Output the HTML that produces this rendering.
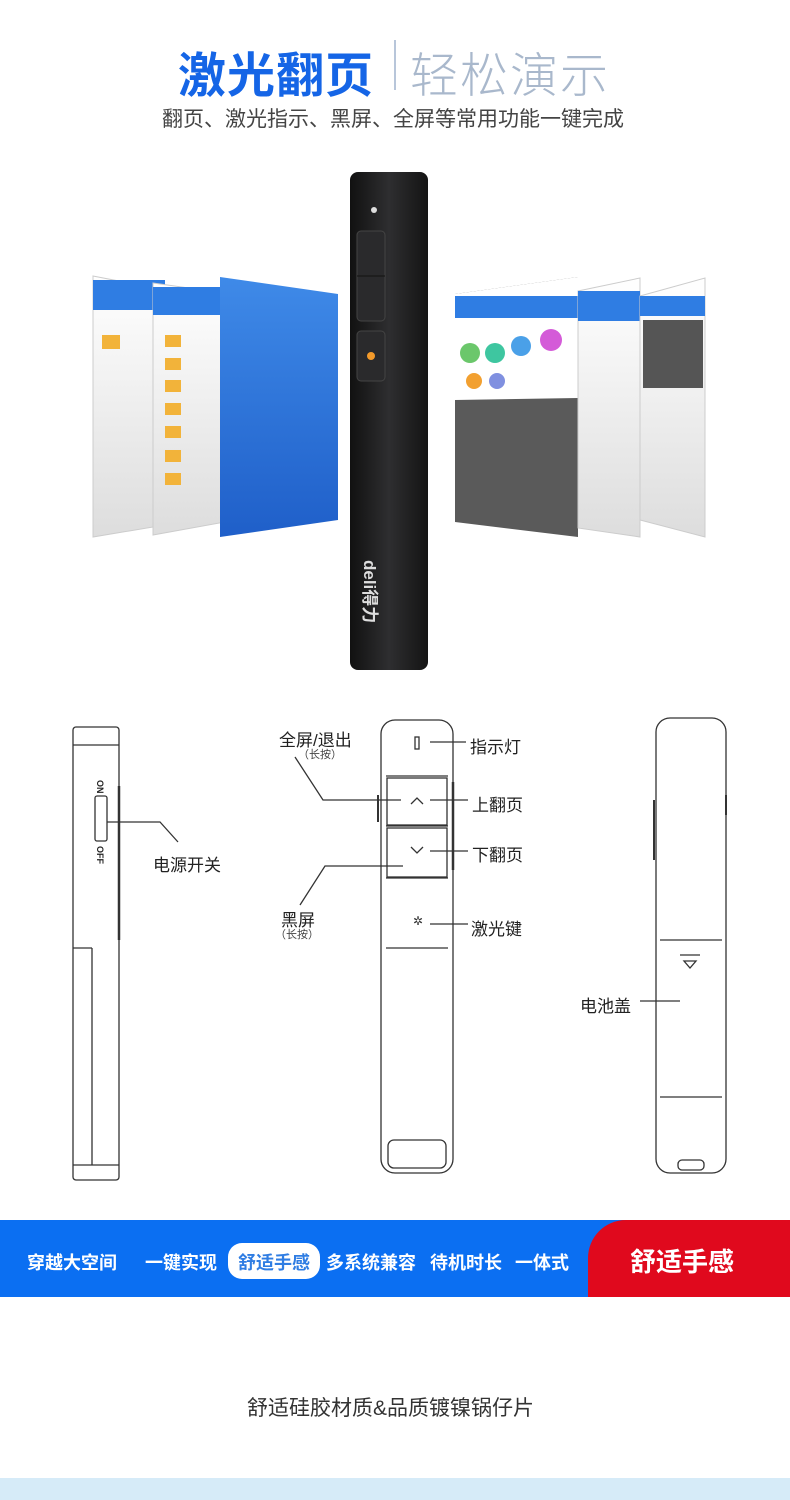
<!DOCTYPE html>
<html><head><meta charset="utf-8"><style>
html,body{margin:0;padding:0;background:#fff;}
body{width:790px;height:1500px;position:relative;overflow:hidden;font-family:"Liberation Sans","Noto Sans CJK SC",sans-serif;}
.a{position:absolute;white-space:nowrap;}
</style></head><body>
<div class="a" style="left:178px;top:36px;font-size:48px;font-weight:bold;color:#1565e6;letter-spacing:1px;">激光翻页</div>
<div class="a" style="left:394px;top:40px;width:2px;height:50px;background:#b8c6da;"></div>
<div class="a" style="left:410px;top:36px;font-size:48px;font-weight:200;color:#a9b8cc;letter-spacing:2px;">轻松演示</div>
<div class="a" style="left:162px;top:103px;font-size:21px;color:#444;">翻页、激光指示、黑屏、全屏等常用功能一键完成</div>

<svg class="a" style="left:0;top:0" width="790" height="1500">
<defs>
<linearGradient id="bl" x1="0" y1="0" x2="0" y2="1"><stop offset="0" stop-color="#3f8ae8"/><stop offset="1" stop-color="#1f5fc9"/></linearGradient>
<linearGradient id="wh" x1="0" y1="0" x2="0" y2="1"><stop offset="0" stop-color="#fff"/><stop offset="1" stop-color="#ddd"/></linearGradient>
<linearGradient id="pen" x1="0" y1="0" x2="1" y2="0"><stop offset="0" stop-color="#111"/><stop offset=".5" stop-color="#2e2e30"/><stop offset="1" stop-color="#141414"/></linearGradient>
</defs>
<polygon points="93,276 165,290 165,525 93,537" fill="url(#wh)" stroke="#ccc"/>
<rect x="93" y="280" width="72" height="30" fill="#2f7de3"/>
<polygon points="153,283 225,293 225,522 153,535" fill="url(#wh)" stroke="#ccc"/>
<rect x="153" y="287" width="72" height="28" fill="#2f7de3"/>
<g fill="#f2b33a"><rect x="102" y="335" width="18" height="14"/><rect x="165" y="335" width="16" height="12"/><rect x="165" y="358" width="16" height="12"/><rect x="165" y="380" width="16" height="12"/><rect x="165" y="403" width="16" height="12"/><rect x="165" y="426" width="16" height="12"/><rect x="165" y="450" width="16" height="12"/><rect x="165" y="473" width="16" height="12"/></g>
<polygon points="220,277 338,294 338,520 220,537" fill="url(#bl)"/>
<polygon points="455,294 578,277 578,537 455,522" fill="#5a5a5a"/>
<polygon points="455,294 578,277 578,398 455,400" fill="#fff"/>
<rect x="455" y="296" width="123" height="22" fill="#2f7de3"/>
<circle cx="470" cy="353" r="10" fill="#6bc76b"/><circle cx="495" cy="353" r="10" fill="#3ec6a0"/><circle cx="521" cy="346" r="10" fill="#4aa0e8"/><circle cx="551" cy="340" r="11" fill="#d45bd8"/><circle cx="474" cy="381" r="8" fill="#f2a030"/><circle cx="497" cy="381" r="8" fill="#8090e0"/>
<polygon points="578,291 640,278 640,537 578,528" fill="url(#wh)" stroke="#ccc"/>
<rect x="578" y="291" width="62" height="30" fill="#2f7de3"/>
<polygon points="640,296 705,278 705,537 640,520" fill="url(#wh)" stroke="#ccc"/>
<rect x="640" y="296" width="65" height="20" fill="#2f7de3"/>
<rect x="643" y="320" width="60" height="68" fill="#555"/>
<rect x="350" y="172" width="78" height="498" rx="8" fill="url(#pen)"/>
<circle cx="374" cy="210" r="3" fill="#ddd"/>
<rect x="357" y="231" width="28" height="90" rx="4" fill="#2a2a2c" stroke="#444"/>
<line x1="357" y1="276" x2="385" y2="276" stroke="#111"/>
<rect x="357" y="331" width="28" height="50" rx="4" fill="#2a2a2c" stroke="#444"/>
<circle cx="371" cy="356" r="4" fill="#f39a2a"/>
<text x="0" y="0" transform="translate(364,560) rotate(90)" font-size="17" font-weight="bold" fill="#ddd" font-family="Liberation Sans,Noto Sans CJK SC,sans-serif">deli得力</text>

<g fill="none" stroke="#333" stroke-width="1.3">
<rect x="73" y="727" width="46" height="453" rx="3"/>
<line x1="73" y1="745" x2="119" y2="745"/>
<line x1="73" y1="948" x2="92" y2="948"/><line x1="92" y1="948" x2="92" y2="1165"/>
<line x1="73" y1="1165" x2="119" y2="1165"/>
<rect x="95" y="796" width="12" height="45" rx="2"/>
<line x1="119" y1="786" x2="119" y2="940" stroke-width="2.5"/>
<polyline points="107,822 160,822 178,842"/>
<rect x="381" y="720" width="72" height="453" rx="14"/>
<line x1="386" y1="776" x2="448" y2="776"/><line x1="386" y1="826" x2="448" y2="826"/><line x1="386" y1="878" x2="448" y2="878"/><line x1="386" y1="948" x2="448" y2="948"/>
<rect x="387" y="778" width="60" height="47"/><rect x="387" y="828" width="60" height="49"/>
<rect x="388" y="1140" width="58" height="28" rx="6"/>
<line x1="453" y1="782" x2="453" y2="870" stroke-width="2.5"/>
<line x1="378" y1="795" x2="378" y2="822" stroke-width="2"/>
<polyline points="411,804 417,798 423,804"/><polyline points="411,847 417,853 423,847"/>
<rect x="415" y="737" width="4" height="12"/>
<polyline points="295,757 323,800 401,800"/>
<polyline points="300,905 325,866 403,866"/>
<line x1="430" y1="742" x2="466" y2="742"/><line x1="430" y1="800" x2="468" y2="800"/><line x1="430" y1="851" x2="468" y2="851"/><line x1="430" y1="924" x2="468" y2="924"/>
<rect x="656" y="718" width="70" height="455" rx="14"/>
<line x1="660" y1="940" x2="722" y2="940"/><line x1="660" y1="1097" x2="722" y2="1097"/>
<line x1="654" y1="800" x2="654" y2="860" stroke-width="2"/>
<line x1="726" y1="795" x2="726" y2="815" stroke-width="2"/>
<line x1="680" y1="955" x2="700" y2="955"/><polygon points="684,961 696,961 690,968"/>
<rect x="678" y="1160" width="26" height="10" rx="4"/>
<line x1="640" y1="1001" x2="680" y2="1001"/>
</g>
<text x="418" y="925" font-size="12" fill="#333" text-anchor="middle">✲</text>
</svg>
<div class="a" style="left:279px;top:726px;font-size:17px;color:#222;">全屏/退出</div>
<div class="a" style="left:298px;top:746px;font-size:11px;color:#444;">（长按）</div>
<div class="a" style="left:470px;top:733px;font-size:17px;color:#222;">指示灯</div>
<div class="a" style="left:472px;top:791px;font-size:17px;color:#222;">上翻页</div>
<div class="a" style="left:472px;top:841px;font-size:17px;color:#222;">下翻页</div>
<div class="a" style="left:471px;top:915px;font-size:17px;color:#222;">激光键</div>
<div class="a" style="left:281px;top:906px;font-size:17px;color:#222;">黑屏</div>
<div class="a" style="left:275px;top:926px;font-size:11px;color:#444;">（长按）</div>
<div class="a" style="left:153px;top:851px;font-size:17px;color:#222;">电源开关</div>
<div class="a" style="left:580px;top:992px;font-size:17px;color:#222;">电池盖</div>
<svg class="a" style="left:93px;top:776px" width="18" height="90"><text x="0" y="0" transform="translate(4,4) rotate(90)" font-size="9" font-weight="bold" fill="#222">ON</text><text x="0" y="0" transform="translate(4,70) rotate(90)" font-size="9" font-weight="bold" fill="#222">OFF</text></svg>

<div class="a" style="left:0;top:1220px;width:790px;height:77px;background:#0b6ff2;"></div>
<div class="a" style="left:588px;top:1220px;width:202px;height:77px;background:#e0091d;border-top-left-radius:38px;"></div>
<div class="a" style="left:228px;top:1243px;width:92px;height:36px;background:#fff;border-radius:14px;"></div>
<div class="a" style="left:27px;top:1249px;font-size:18px;font-weight:bold;color:#fff;">穿越大空间</div>
<div class="a" style="left:145px;top:1249px;font-size:18px;font-weight:bold;color:#fff;">一键实现</div>
<div class="a" style="left:238px;top:1249px;font-size:18px;font-weight:bold;color:#2f7de3;">舒适手感</div>
<div class="a" style="left:326px;top:1249px;font-size:18px;font-weight:bold;color:#fff;">多系统兼容</div>
<div class="a" style="left:430px;top:1249px;font-size:18px;font-weight:bold;color:#fff;">待机时长</div>
<div class="a" style="left:515px;top:1249px;font-size:18px;font-weight:bold;color:#fff;">一体式</div>
<div class="a" style="left:630px;top:1242px;font-size:26px;font-weight:bold;color:#fff;">舒适手感</div>

<div class="a" style="left:247px;top:1392px;font-size:21px;color:#333;">舒适硅胶材质&amp;品质镀镍锅仔片</div>
<div class="a" style="left:0;top:1478px;width:790px;height:22px;background:#d6ebf8;"></div>
</body></html>
